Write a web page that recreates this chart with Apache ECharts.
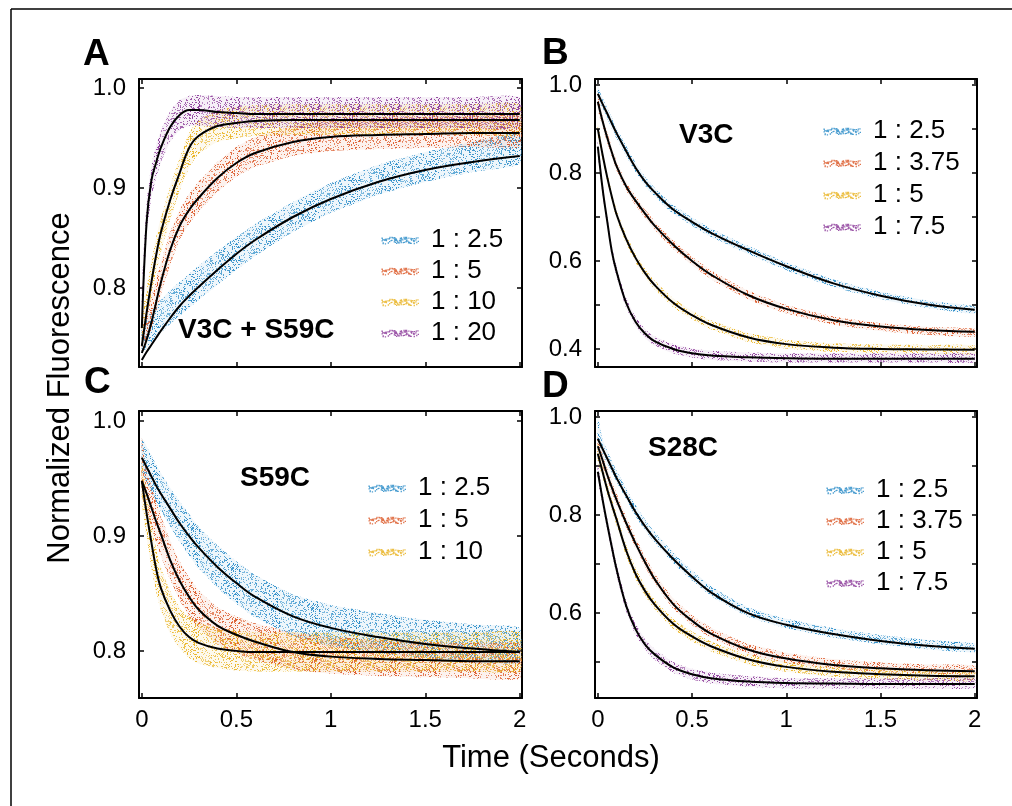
<!DOCTYPE html>
<html>
<head>
<meta charset="utf-8">
<script src="https://cdn.jsdelivr.net/npm/echarts@6/dist/echarts.min.js"></script>
<style>
html,body{margin:0;padding:0;background:#fff;}
#main{width:1012px;height:806px;}
</style>
</head>
<body>
<div id="main"></div>
<script>
var tGrid = [0, 0.025, 0.05, 0.075, 0.1, 0.15, 0.2, 0.25, 0.3, 0.4, 0.5, 0.6, 0.8, 1.0, 1.25, 1.5, 1.75, 2.0];

var xTicks = [0, 0.5, 1, 1.5, 2];

//---- A : V3C + S59C
var namesA = ['1 : 2.5', '1 : 5', '1 : 10', '1 : 20'];
var yTicksA = [0.8, 0.9, 1.0];
var yLabelsA = [0.8, 0.9, 1.0];
var fitA1 = [.728,.736,.743,.750,.757,.770,.782,.792,.801,.818,.834,.848,.871,.889,.906,.918,.926,.932];
var loA1  = [.735,.740,.745,.750,.755,.764,.772,.780,.788,.803,.818,.832,.856,.875,.893,.906,.916,.924];
var hiA1  = [.765,.770,.776,.782,.788,.798,.806,.814,.822,.837,.851,.864,.886,.905,.923,.936,.946,.955];
var fitA2 = [.735,.748,.765,.785,.805,.838,.862,.878,.890,.910,.925,.935,.946,.951,.953,.954,.955,.955];
var loA2  = [.735,.745,.758,.775,.792,.823,.848,.864,.876,.896,.911,.921,.932,.937,.939,.940,.941,.941];
var hiA2  = [.765,.775,.790,.808,.825,.856,.878,.894,.906,.926,.941,.951,.962,.968,.970,.971,.972,.972];
var fitA3 = [.742,.775,.805,.832,.855,.888,.915,.940,.952,.962,.965,.967,.968,.968,.968,.968,.968,.968];
var loA3  = [.745,.770,.793,.815,.835,.868,.897,.920,.934,.946,.950,.952,.953,.953,.953,.953,.953,.953];
var hiA3  = [.775,.800,.826,.850,.870,.902,.930,.955,.968,.978,.982,.983,.984,.984,.984,.984,.984,.984];
var fitA4 = [.760,.865,.907,.925,.940,.961,.973,.978,.978,.976,.975,.974,.974,.974,.974,.974,.974,.974];
var loA4  = [.765,.850,.890,.910,.925,.946,.958,.962,.962,.961,.960,.960,.960,.960,.960,.960,.960,.960];
var hiA4  = [.800,.885,.922,.942,.957,.977,.988,.992,.993,.992,.991,.991,.991,.991,.991,.991,.991,.991];

//---- B : V3C
var namesB = ['1 : 2.5', '1 : 3.75', '1 : 5', '1 : 7.5'];
var yTicksB = [0.4, 0.5, 0.6, 0.7, 0.8, 0.9, 1.0];
var yLabelsB = [0.4, 0.6, 0.8, 1.0];
var fitB1 = [.980,.957,.935,.912,.890,.850,.812,.781,.757,.717,.689,.664,.624,.588,.549,.521,.501,.489];
var loB1  = [.965,.945,.923,.900,.878,.839,.802,.771,.747,.707,.680,.655,.615,.579,.541,.513,.493,.480];
var hiB1  = [.998,.972,.948,.925,.902,.862,.823,.792,.767,.727,.699,.674,.634,.597,.558,.530,.510,.497];
var fitB2 = [.962,.918,.880,.846,.815,.770,.737,.708,.681,.637,.600,.569,.522,.491,.465,.451,.443,.439];
var loB2  = [.945,.905,.868,.835,.805,.760,.727,.698,.671,.627,.590,.559,.512,.481,.455,.441,.432,.428];
var hiB2  = [.978,.930,.892,.858,.826,.780,.747,.718,.691,.647,.610,.579,.532,.500,.474,.459,.450,.446];
var fitB3 = [.900,.842,.790,.745,.705,.650,.607,.573,.546,.505,.477,.455,.426,.411,.403,.400,.399,.398];
var loB3  = [.885,.830,.779,.734,.695,.640,.597,.563,.536,.495,.467,.445,.416,.401,.393,.390,.389,.388];
var hiB3  = [.915,.855,.802,.756,.716,.660,.617,.583,.556,.515,.487,.465,.436,.421,.413,.410,.409,.408];
var fitB4 = [.860,.765,.690,.620,.575,.505,.462,.435,.418,.400,.390,.385,.381,.379,.378,.378,.378,.378];
var loB4  = [.845,.752,.678,.608,.563,.494,.451,.425,.408,.390,.380,.375,.371,.369,.369,.369,.369,.369];
var hiB4  = [.875,.780,.703,.632,.587,.516,.473,.446,.429,.411,.401,.396,.392,.390,.390,.390,.390,.390];

//---- C : S59C
var namesC = ['1 : 2.5', '1 : 5', '1 : 10'];
var yTicksC = [0.8, 0.9, 1.0];
var yLabelsC = [0.8, 0.9, 1.0];
var fitC1 = [.968,.960,.952,.944,.937,.924,.911,.900,.890,.873,.859,.847,.830,.820,.812,.806,.802,.799];
var loC1  = [.955,.947,.938,.930,.922,.908,.895,.883,.872,.855,.841,.829,.813,.804,.798,.794,.791,.790];
var hiC1  = [.985,.978,.970,.962,.955,.942,.930,.919,.908,.892,.878,.866,.849,.840,.833,.827,.823,.820];
var fitC2 = [.948,.937,.925,.913,.902,.879,.861,.847,.836,.822,.814,.808,.799,.795,.793,.792,.791,.791];
var loC2  = [.935,.922,.908,.895,.883,.862,.844,.830,.820,.806,.798,.792,.784,.780,.778,.777,.776,.776];
var hiC2  = [.985,.958,.944,.930,.918,.896,.878,.864,.853,.838,.830,.824,.816,.812,.810,.808,.807,.806];
var fitC3 = [.948,.920,.895,.872,.855,.835,.821,.812,.807,.802,.800,.799,.799,.799,.799,.799,.799,.799];
var loC3  = [.930,.900,.873,.852,.836,.815,.802,.794,.789,.785,.783,.782,.782,.782,.782,.782,.782,.782];
var hiC3  = [.965,.938,.912,.890,.873,.852,.838,.830,.825,.820,.818,.816,.816,.816,.816,.816,.816,.816];

//---- D : S28C
var namesD = ['1 : 2.5', '1 : 3.75', '1 : 5', '1 : 7.5'];
var yTicksD = [0.5, 0.6, 0.7, 0.8, 0.9, 1.0];
var yLabelsD = [0.6, 0.8, 1.0];
var fitD1 = [.955,.935,.915,.895,.875,.840,.806,.777,.752,.710,.674,.642,.599,.576,.557,.543,.533,.527];
var loD1  = [.950,.925,.905,.886,.867,.832,.798,.769,.744,.702,.666,.635,.592,.569,.550,.536,.526,.520];
var hiD1  = [1.00,.955,.932,.910,.890,.854,.820,.791,.766,.723,.687,.655,.611,.588,.569,.555,.545,.538];
var fitD2 = [.940,.912,.882,.855,.830,.784,.742,.704,.670,.618,.584,.558,.525,.507,.494,.487,.483,.481];
var loD2  = [.925,.900,.871,.845,.820,.775,.733,.695,.661,.609,.575,.549,.516,.498,.486,.479,.476,.474];
var hiD2  = [.960,.926,.895,.868,.843,.797,.754,.716,.682,.630,.596,.570,.537,.519,.506,.499,.495,.493];
var fitD3 = [.925,.888,.852,.820,.790,.728,.680,.645,.618,.578,.552,.532,.505,.490,.480,.475,.472,.471];
var loD3  = [.910,.876,.840,.808,.778,.717,.670,.635,.608,.568,.542,.522,.495,.480,.470,.465,.462,.461];
var hiD3  = [.945,.900,.864,.832,.802,.740,.692,.657,.628,.588,.562,.542,.515,.500,.490,.485,.482,.481];
var fitD4 = [.888,.832,.781,.733,.688,.615,.567,.536,.516,.489,.475,.467,.460,.457,.456,.455,.455,.455];
var loD4  = [.873,.819,.769,.721,.676,.604,.556,.525,.505,.478,.464,.456,.449,.446,.446,.446,.446,.446];
var hiD4  = [.905,.845,.793,.745,.700,.626,.578,.547,.527,.500,.486,.478,.471,.467,.467,.467,.467,.467];

//--------------------

var FONT = '"Liberation Sans", Arial, Helvetica, sans-serif';
var BLUE = '#2a8cc8', ORANGE = '#dc5a2a', YELLOW = '#e9b321', PURPLE = '#8c3b9a';

var chart = echarts.init(document.getElementById('main'));

// integer hash, only used to scatter texture dots
function mix(n) {
    n = Math.imul(n ^ (n >>> 16), 0x45d9f3b);
    n = Math.imul(n ^ (n >>> 16), 0x45d9f3b);
    return (n ^ (n >>> 16)) >>> 0;
}

// speckled fill so the envelope reads like a dot cloud
function speckle(color, seed) {
    var S = 40;
    var c = document.createElement('canvas');
    c.width = S; c.height = S;
    var ctx = c.getContext('2d');
    ctx.fillStyle = color;
    ctx.globalAlpha = 0.08;
    ctx.fillRect(0, 0, S, S);
    for (var i = 0; i < 420; i++) {
        var h = mix(i * 7919 + seed * 104729 + 1);
        ctx.globalAlpha = 0.55 + (h % 40) / 100;
        ctx.fillRect(h % S, (h >>> 12) % S, 1, 1);
    }
    return { image: c, repeat: 'repeat' };
}

// little dotted strip used as legend icon
function speckIcon() {
    var s = 'path://M0,0h0.1v0.1h-0.1zM40,9h0.1v0.1h-0.1z';
    for (var i = 0; i < 90; i++) {
        var h = mix(i * 31 + 5);
        var x = (h % 380) / 10;
        var y = 1.5 + ((h >>> 10) % 55) / 10 + Math.sin(x / 2.2) * 0.8;
        s += 'M' + x.toFixed(1) + ',' + y.toFixed(1) + 'h1.3v1.3h-1.3z';
    }
    return s;
}
var ICON = speckIcon();

var grids = [
    { left: 139, top: 79, width: 383, height: 288 },
    { left: 595, top: 79, width: 382, height: 288 },
    { left: 139, top: 411, width: 383, height: 287 },
    { left: 595, top: 411, width: 382, height: 287 }
];
var yRange = [[0.721, 1.009], [0.359, 1.0135], [0.759, 1.0087], [0.4265, 1.012]];

var xAxes = [], yAxes = [], series = [], legends = [];

function addAxes(g, yTicks, yLabels, showX) {
    var line = { show: true, onZero: false, lineStyle: { color: '#000', width: 2 } };
    function tick(vals) {
        return { show: true, inside: true, length: 5, customValues: vals, lineStyle: { color: '#000', width: 1.5 } };
    }
    xAxes.push({
        gridIndex: g, type: 'value', position: 'bottom', min: -0.015, max: 2.012,
        axisLine: line, axisTick: tick(xTicks), splitLine: { show: false },
        axisLabel: showX ? {
            show: true, customValues: xTicks, margin: 10, color: '#000',
            fontFamily: FONT, fontSize: 24,
            formatter: function (v) { return String(v); }
        } : { show: false }
    });
    xAxes.push({
        gridIndex: g, type: 'value', position: 'top', min: -0.015, max: 2.012,
        axisLine: line, axisTick: tick(xTicks), axisLabel: { show: false }, splitLine: { show: false }
    });
    yAxes.push({
        gridIndex: g, type: 'value', position: 'left', min: yRange[g][0], max: yRange[g][1],
        axisLine: line, axisTick: tick(yTicks), splitLine: { show: false },
        axisLabel: {
            show: true, customValues: yLabels, margin: 13, color: '#000',
            fontFamily: FONT, fontSize: 24,
            formatter: function (v) { return v.toFixed(1); }
        }
    });
    yAxes.push({
        gridIndex: g, type: 'value', position: 'right', min: yRange[g][0], max: yRange[g][1],
        axisLine: line, axisTick: tick(yTicks), axisLabel: { show: false }, splitLine: { show: false }
    });
}

function bandRenderer(fill) {
    return function (params, api) {
        if (params.dataIndexInside !== 0) return;
        var n = params.dataInsideLength, up = [], dn = [];
        for (var i = 0; i < n; i++) {
            var t = api.value(0, i);
            up.push(api.coord([t, api.value(2, i)]));
            dn.push(api.coord([t, api.value(1, i)]));
        }
        return {
            type: 'polygon',
            shape: { points: up.concat(dn.reverse()), smooth: 0.15 },
            style: { fill: fill }
        };
    };
}

var seedCount = 0;
function addPanel(g, tag, names, cols, fits, los, his) {
    var legendData = [];
    names.forEach(function (nm, k) {
        var name = tag + '|' + nm;
        series.push({
            type: 'custom', name: name, xAxisIndex: 2 * g, yAxisIndex: 2 * g,
            itemStyle: { color: cols[k] }, clip: true, z: 2 + k * 0.01,
            encode: { x: 0, y: [1, 2] },
            data: tGrid.map(function (t, i) { return [t, los[k][i], his[k][i]]; }),
            renderItem: bandRenderer(speckle(cols[k], ++seedCount))
        });
        legendData.push({ name: name, icon: ICON, itemStyle: { color: cols[k], opacity: 0.85 } });
    });
    fits.forEach(function (f) {
        series.push({
            type: 'line', xAxisIndex: 2 * g, yAxisIndex: 2 * g, z: 5,
            showSymbol: false, smooth: 0.4, silent: true,
            lineStyle: { color: '#000', width: 2 },
            data: tGrid.map(function (t, i) { return [t, f[i]]; })
        });
    });
    legends.push(legendData);
}

addAxes(0, yTicksA, yLabelsA, false);
addAxes(1, yTicksB, yLabelsB, false);
addAxes(2, yTicksC, yLabelsC, true);
addAxes(3, yTicksD, yLabelsD, true);

addPanel(0, 'A', namesA, [BLUE, ORANGE, YELLOW, PURPLE], [fitA1, fitA2, fitA3, fitA4], [loA1, loA2, loA3, loA4], [hiA1, hiA2, hiA3, hiA4]);
addPanel(1, 'B', namesB, [BLUE, ORANGE, YELLOW, PURPLE], [fitB1, fitB2, fitB3, fitB4], [loB1, loB2, loB3, loB4], [hiB1, hiB2, hiB3, hiB4]);
addPanel(2, 'C', namesC, [BLUE, ORANGE, YELLOW], [fitC1, fitC2, fitC3], [loC1, loC2, loC3], [hiC1, hiC2, hiC3]);
addPanel(3, 'D', namesD, [BLUE, ORANGE, YELLOW, PURPLE], [fitD1, fitD2, fitD3, fitD4], [loD1, loD2, loD3, loD4], [hiD1, hiD2, hiD3, hiD4]);

var legendPos = [
    { left: 376, top: 222, itemGap: 5 },
    { left: 818, top: 113, itemGap: 6 },
    { left: 363, top: 470, itemGap: 6 },
    { left: 821, top: 472, itemGap: 5 }
];
var legendCfg = legends.map(function (d, i) {
    return {
        orient: 'vertical', left: legendPos[i].left, top: legendPos[i].top,
        itemGap: legendPos[i].itemGap, itemWidth: 40, itemHeight: 10,
        selectedMode: false, data: d,
        formatter: function (n) { return n.split('|')[1]; },
        textStyle: { fontFamily: FONT, fontSize: 26, color: '#000', lineHeight: 26, padding: [0, 0, 0, 5] }
    };
});

function txt(x, y, s, size, bold, align) {
    return {
        type: 'text', x: x, y: y, silent: true,
        style: {
            text: s, fill: '#000', font: (bold ? 'bold ' : '') + size + 'px ' + FONT,
            textAlign: align || 'left', textVerticalAlign: 'middle'
        }
    };
}

var graphics = [
    { type: 'line', shape: { x1: 11, y1: 9, x2: 1012, y2: 9 }, style: { stroke: '#000', lineWidth: 1.5 } },
    { type: 'line', shape: { x1: 11, y1: 9, x2: 11, y2: 806 }, style: { stroke: '#000', lineWidth: 1.5 } },
    txt(83, 55, 'A', 37, true),
    txt(542, 54, 'B', 37, true),
    txt(84, 383, 'C', 37, true),
    txt(542, 387, 'D', 37, true),
    txt(178, 330, 'V3C + S59C', 28, true),
    txt(679, 135, 'V3C', 28, true),
    txt(240, 478, 'S59C', 28, true),
    txt(648, 448, 'S28C', 28, true),
    txt(551, 758, 'Time (Seconds)', 31, false, 'center'),
    {
        type: 'text', x: 60, y: 388, rotation: Math.PI / 2, silent: true,
        style: {
            text: 'Normalized Fluorescence', fill: '#000', font: '31px ' + FONT,
            textAlign: 'center', textVerticalAlign: 'middle'
        }
    }
];

chart.setOption({
    backgroundColor: '#fff',
    animation: false,
    grid: grids,
    xAxis: xAxes,
    yAxis: yAxes,
    legend: legendCfg,
    series: series,
    graphic: graphics
});
</script>
</body>
</html>
